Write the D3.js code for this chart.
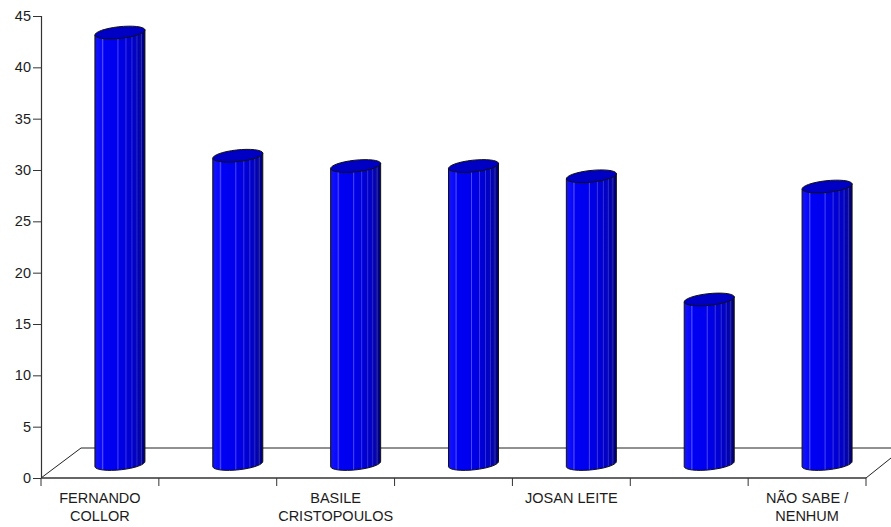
<!DOCTYPE html>
<html><head><meta charset="utf-8">
<script src="https://cdn.jsdelivr.net/npm/d3@7"></script>
<style>html,body{margin:0;padding:0;background:#fff}svg{display:block}
text{font-family:"Liberation Sans",Arial,sans-serif;fill:#1c1c1c}</style></head>
<body><svg id="c" width="891" height="527"></svg>
<script>
const categories = ["FERNANDO COLLOR","","BASILE CRISTOPOULOS","","JOSAN LEITE","","NÃO SABE / NENHUM"];
const labelLines = [["FERNANDO","COLLOR"],[],["BASILE","CRISTOPOULOS"],[],["JOSAN LEITE"],[],["NÃO SABE /","NENHUM"]];
const values = [43, 31, 30, 30, 29, 17, 28];
const yTicks = [0,5,10,15,20,25,30,35,40,45];
const stripes = [[0,"#1414e8"],[.05,"#1010ff"],[.13,"#0808f8"],[.15,"#4a4aff"],[.18,"#0000f4"],[.44,"#0000ee"],[.46,"#4848f4"],[.48,"#0000e8"],[.6,"#0000e0"],[.62,"#3838e4"],[.64,"#0000d8"],[.72,"#0000d0"],[.74,"#3030d8"],[.76,"#0000c8"],[.82,"#0404c0"],[.84,"#2c2cc8"],[.86,"#0000b4"],[.91,"#0808a8"],[.93,"#3030a8"],[.95,"#000090"],[1,"#000060"]];

const svg = d3.select("#c");
const x = d3.scaleBand().domain(d3.range(categories.length)).range([41,866]);
const y = d3.scaleLinear().domain([0,45]).range([478,16]);
const depthX = 40, depthY = 30, barShiftX = 20, barW = 50;
const topShift = 4, baseY = y(0) - 14, ry = 5.8, tilt = 2.8;

const g = svg.append("defs").append("linearGradient").attr("id","cyl");
g.selectAll("stop").data(stripes).join("stop")
 .attr("offset",d=>d[0]).attr("stop-color",d=>d[1]);

// floor
const ink = "#222";
svg.append("path").attr("fill","none").attr("stroke",ink).attr("stroke-width",1)
 .attr("d",`M${x.range()[0]},${y(0)}L${x.range()[0]+depthX},${y(0)-depthY}H891`);
svg.append("path").attr("fill","none").attr("stroke",ink).attr("stroke-width",1)
 .attr("d",`M${x.range()[1]},${y(0)}L891,${y(0)-20}`);

// cylinders
const bars = svg.append("g").selectAll("g").data(values).join("g");
const cx = (d,i)=>x(i)+x.bandwidth()/2+barShiftX;
bars.append("path").attr("fill","url(#cyl)").attr("stroke","#111").attr("stroke-width",1)
 .attr("d",(d,i)=>{
   const c=cx(d,i), r=barW/2, t=y(d)-topShift;
   return `M${c-r},${t+tilt}L${c-r},${baseY+tilt}`+
          `A${r},${ry} -6 0 0 ${c+r},${baseY-tilt}`+
          `L${c+r},${t-tilt}Z`;
 });
bars.append("path").attr("fill","#0000c4").attr("stroke","#111").attr("stroke-width",1)
 .attr("d",(d,i)=>{
   const c=cx(d,i), r=barW/2, t=y(d)-topShift;
   return `M${c-r},${t+tilt}A${r},${ry} -6 0 1 ${c+r},${t-tilt}A${r},${ry} -6 0 1 ${c-r},${t+tilt}Z`;
 });

// axes
const yAxis = d3.axisLeft(y).tickValues(yTicks).tickSize(8).tickPadding(3).tickFormat(d3.format("d"));
const ay = svg.append("g").attr("transform",`translate(${x.range()[0]},0)`).call(yAxis);
ay.selectAll("path,line").attr("stroke","#333");
ay.select(".domain").attr("d",`M0.5,${y(45)}V${y(0)}`).attr("stroke-width",1.2);
ay.selectAll("line").attr("x1",-8).attr("x2",0);
ay.selectAll("text").attr("font-size",14.5).attr("x",-10).style("font-family",'"Liberation Sans",Arial,sans-serif');

const edges = d3.range(categories.length+1).map(i=>x.range()[0]+i*x.step());
const ax = svg.append("g");
ax.append("line").attr("x1",x.range()[0]).attr("x2",x.range()[1]).attr("y1",y(0)).attr("y2",y(0)).attr("stroke","#333").attr("stroke-width",1.6);
ax.selectAll(".t").data(edges).join("line").attr("class","t")
 .attr("x1",d=>d).attr("x2",d=>d).attr("y1",y(0)).attr("y2",y(0)+8).attr("stroke","#333");
ax.selectAll(".l").data(labelLines).join("text").attr("class","l")
 .attr("text-anchor","middle").attr("font-size",14.5)
 .attr("transform",(d,i)=>`translate(${x(i)+x.bandwidth()/2},${y(0)+25})`)
 .selectAll("tspan").data(d=>d).join("tspan").attr("x",0).attr("dy",(d,i)=>i?18:0).text(d=>d);
</script></body></html>
